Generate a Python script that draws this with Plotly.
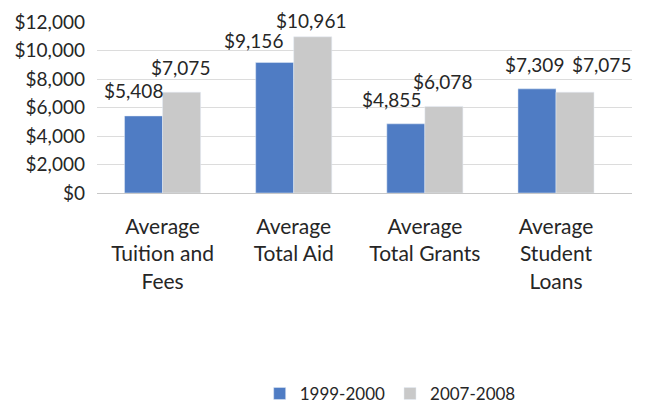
import plotly.graph_objects as go

categories = ["Average<br>Tuition and<br>Fees", "Average<br>Total Aid", "Average<br>Total Grants", "Average<br>Student<br>Loans"]
series_names = ["1999-2000", "2007-2008"]
values_1999 = [5408, 9156, 4855, 7309]
values_2007 = [7075, 10961, 6078, 7075]
y_ticks = [0, 2000, 4000, 6000, 8000, 10000, 12000]
y_tick_labels = ["$0", "$2,000", "$4,000", "$6,000", "$8,000", "$10,000", "$12,000"]

BLUE = "#4F7CC4"
GREY = "#C9C9C9"
TEXT = "#262626"
FONT = "Lato"

fig = go.Figure()
fig.add_trace(go.Bar(x=categories, y=values_1999, name=series_names[0], marker_color=BLUE))
fig.add_trace(go.Bar(x=categories, y=values_2007, name=series_names[1], marker_color=GREY))

# value labels (nudged as in the original layout)
nudge_blue = [-10, -21, -14, -2]
nudge_grey = [-2, -2, -2, 26]
lift_blue = [13, 10, 12, 12]
lift_grey = [12, 4, 12, 15]
half = 19.5
for i, c in enumerate(categories):
    fig.add_annotation(x=c, y=values_1999[i], text=f"${values_1999[i]:,}", showarrow=False,
                       xshift=-half + nudge_blue[i], yshift=lift_blue[i], yanchor="bottom",
                       borderpad=0, font=dict(family=FONT, size=19, color=TEXT))
    fig.add_annotation(x=c, y=values_2007[i], text=f"${values_2007[i]:,}", showarrow=False,
                       xshift=half + nudge_grey[i], yshift=lift_grey[i], yanchor="bottom",
                       borderpad=0, font=dict(family=FONT, size=19, color=TEXT))

# page body has an 8px margin, so the figure is sized to the visible area
fig.update_layout(
    width=637, height=399,
    margin=dict(l=89, r=13, t=14, b=214, autoexpand=False),
    paper_bgcolor="white", plot_bgcolor="white",
    barmode="group", bargap=0.42, bargroupgap=0,
    font=dict(family=FONT, size=19, color=TEXT),
    showlegend=True,
    legend=dict(orientation="h", x=0.548, xanchor="center", y=-1.175, yanchor="middle",
                font=dict(family=FONT, size=17, color=TEXT)),
)
fig.update_yaxes(range=[0, 12000], tickvals=y_ticks, ticktext=y_tick_labels,
                 showgrid=True, gridcolor="#DCDCDC", gridwidth=1,
                 zeroline=True, zerolinecolor="#C8C8C8", zerolinewidth=1,
                 showline=False, ticks="", ticklen=0, automargin=False, ticklabelstandoff=11,
                 tickfont=dict(family=FONT, size=19, color=TEXT))
fig.update_xaxes(showline=False, ticks="", tickangle=0, ticklabelstandoff=19, automargin=False,
                 tickfont=dict(family=FONT, size=21, color=TEXT))

fig.write_html("out.html")
